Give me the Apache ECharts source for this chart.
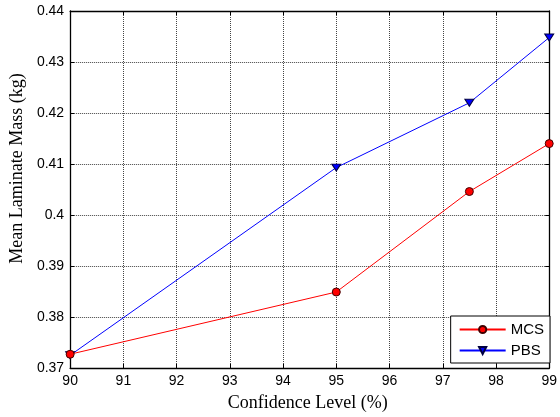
<!DOCTYPE html>
<html>
<head>
<meta charset="utf-8">
<script src="https://cdn.jsdelivr.net/npm/echarts@6/dist/echarts.min.js"></script>
<style>
  html, body { margin: 0; padding: 0; background: #fff; }
  #chart { width: 560px; height: 417px; }
</style>
</head>
<body>
<div id="chart"></div>
<script>
// Confidence level (%) on the x axis
const confidence = [90, 95, 97.5, 99];
// Mean laminate mass (kg) for each method
const mcsMass = [0.3727, 0.3849, 0.4046, 0.4140];
const pbsMass = [0.3725, 0.4093, 0.4220, 0.4348];
const xTicks = [90, 91, 92, 93, 94, 95, 96, 97, 98, 99];
const yTicks = [0.37, 0.38, 0.39, 0.40, 0.41, 0.42, 0.43, 0.44];

const chart = echarts.init(document.getElementById('chart'));

const tickFont = { fontFamily: 'Liberation Sans, Arial, sans-serif', fontSize: 14, color: '#000' };
const titleFont = { fontFamily: 'Liberation Serif, Times New Roman, serif', fontSize: 18, color: '#000' };
const gridLine = { show: true, lineStyle: { color: '#444', type: [1, 1], width: 1 } };
const boxLine = { show: true, onZero: false, lineStyle: { color: '#000', width: 1.3 } };
const tickIn = { show: true, inside: true, length: 4, lineStyle: { color: '#000' } };

chart.setOption({
  animation: false,
  grid: { left: 70, right: 6, top: 11, bottom: 48, containLabel: false },
  xAxis: [{
    type: 'value', min: xTicks[0], max: xTicks[xTicks.length - 1], interval: 1,
    name: 'Confidence Level (%)', nameLocation: 'middle', nameGap: 26,
    nameTextStyle: Object.assign({ padding: [0, 4, 0, 0] }, titleFont),
    axisLine: boxLine, axisTick: tickIn,
    axisLabel: Object.assign({ margin: 6, formatter: v => String(v) }, tickFont),
    splitLine: gridLine
  }, {
    type: 'value', min: xTicks[0], max: xTicks[xTicks.length - 1], interval: 1, position: 'top',
    axisLine: boxLine, axisTick: tickIn, axisLabel: { show: false }, splitLine: { show: false }
  }],
  yAxis: [{
    type: 'value', min: yTicks[0], max: yTicks[yTicks.length - 1], interval: 0.01,
    name: 'Mean Laminate Mass (kg)', nameLocation: 'middle', nameGap: 42,
    nameTextStyle: Object.assign({ padding: [0, 0, 0, 42] }, titleFont),
    axisLine: boxLine, axisTick: tickIn,
    axisLabel: Object.assign({ margin: 6, formatter: v => String(parseFloat(v.toFixed(2))) }, tickFont),
    splitLine: gridLine
  }, {
    type: 'value', min: yTicks[0], max: yTicks[yTicks.length - 1], interval: 0.01, position: 'right',
    axisLine: boxLine, axisTick: tickIn, axisLabel: { show: false }, splitLine: { show: false }
  }],
  legend: {
    right: 10, bottom: 54, orient: 'vertical',
    itemWidth: 46, itemHeight: 9, itemGap: 6,
    padding: [6, 6, 5, 8],
    backgroundColor: '#fff', borderColor: '#000', borderWidth: 1,
    textStyle: Object.assign({ fontSize: 15 }, { fontFamily: tickFont.fontFamily, color: '#000' }),
    data: ['MCS', 'PBS']
  },
  series: [{
    name: 'MCS', type: 'line',
    data: confidence.map((c, i) => [c, mcsMass[i]]),
    symbol: 'circle', symbolSize: 8,
    lineStyle: { color: '#ff0000', width: 1 },
    itemStyle: { color: '#ff0000', borderColor: '#400000', borderWidth: 1 },
    z: 3
  }, {
    name: 'PBS', type: 'line',
    data: confidence.map((c, i) => [c, pbsMass[i]]),
    symbol: 'triangle', symbolSize: [9, 7], symbolRotate: 180,
    lineStyle: { color: '#0000ff', width: 1 },
    itemStyle: { color: '#0000ff', borderColor: '#000040', borderWidth: 1 },
    z: 2
  }]
});
</script>
</body>
</html>
